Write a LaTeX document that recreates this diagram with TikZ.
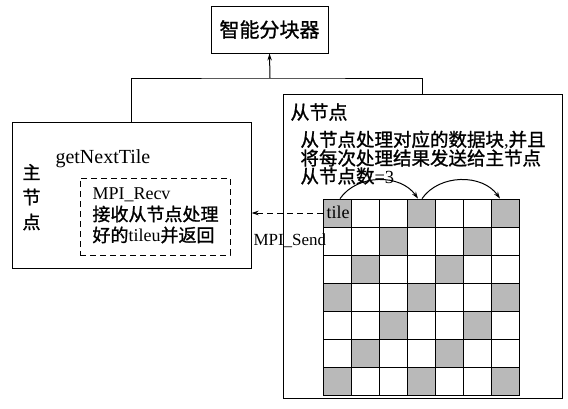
\documentclass[tikz,border=0pt]{standalone}
\usepackage{fontspec}
\setmainfont{Liberation Serif}
\newfontfamily\cjk[FakeBold=1.2]{Noto Sans CJK SC}
\usetikzlibrary{arrows.meta}
\begin{document}
\begin{tikzpicture}[x=1pt,y=-1pt, line width=1pt,
 box/.style={draw, rectangle, inner sep=0},
 txt/.style={inner sep=0, anchor=west},
 btxt/.style={inner sep=0, anchor=base west},
 cell/.style={draw, rectangle, minimum width=28pt, minimum height=28pt, inner sep=0, line width=0.8pt},
 dsh/.style={dash pattern=on 6pt off 4pt},
 arr/.style={-{Stealth[length=7pt,width=4.5pt]}},
 cjkA/.style={font=\cjk\fontsize{20}{20}\selectfont},
 cjkB/.style={font=\cjk\fontsize{18}{18}\selectfont},
 latA/.style={font=\fontsize{20}{20}\selectfont},
 latB/.style={font=\fontsize{18}{18}\selectfont},
 latC/.style={font=\fontsize{17}{17}\selectfont}]
\useasboundingbox (0,0) rectangle (568,408);
% boxes
\node[box, minimum width=117pt, minimum height=47pt, cjkA] (sm) at (269.5,29.5) {智能分块器};
\node[box, minimum width=239pt, minimum height=146pt] (master) at (131.5,195) {};
\node[box, minimum width=279pt, minimum height=304pt] (slave) at (422.5,246) {};
\node[box, dsh, minimum width=150pt, minimum height=77pt] (dbox) at (155,216.5) {};
% connectors to top
\coordinate (j) at (270,78);
\draw (master.north) |- (j) -| (slave.north);
\draw[arr] (j) -- (sm.south);
% master texts
\node[txt, cjkB] (m1) at (22,172) {主};
\node[txt, cjkB] (m2) at (22,197) {节};
\node[txt, cjkB] (m3) at (22,222) {点};
\node[btxt, latA] (gnt) at (55,163) {getNextTile};
\node[btxt, latB] (recv) at (92,199) {MPI\_Recv};
\node[txt, cjkB] (r2) at (92,214) {接收从节点处理};
\node[txt, latB] (r3) at (92,235) {{\cjk 好的}tileu{\cjk 并返回}};
% slave texts
\node[txt, font=\cjk\fontsize{19}{19}\selectfont] (s0) at (290,112) {从节点};
\node[txt, font=\cjk\fontsize{18.5}{18.5}\selectfont] (s1) at (300,140) {从节点处理对应的数据块{\rmfamily,}并且};
\node[txt, font=\cjk\fontsize{18.5}{18.5}\selectfont] (s2) at (300,158) {将每次处理结果发送给主节点};
\node[txt, font=\cjk\fontsize{18.5}{18.5}\selectfont] (s3) at (300,176) {从节点数{\rmfamily =3}};
% grid
\foreach \r in {0,...,6}{\foreach \c in {0,...,6}{
  \pgfmathtruncatemacro\m{mod(\r+\c,3)}
  \ifnum\m=0 \def\fc{gray!55}\else \def\fc{white}\fi
  \node[cell, fill=\fc] (c\r\c) at ({337+28*\c},{213+28*\r}) {};
}}
\node[btxt, latB] (tile) at (326,218) {tile};
\draw[arr] ([xshift=3pt]c00.north) to[out=55,in=125] ([xshift=-3pt]c03.north);
\draw[arr] ([xshift=1pt]c03.north) to[out=55,in=125] ([xshift=-5pt]c06.north);
% send arrow
\draw[dsh, arr] (c00.west) -- (c00.west -| master.east);
\node[btxt, latC] (send) at (253,245) {MPI\_Send};
\end{tikzpicture}
\end{document}
